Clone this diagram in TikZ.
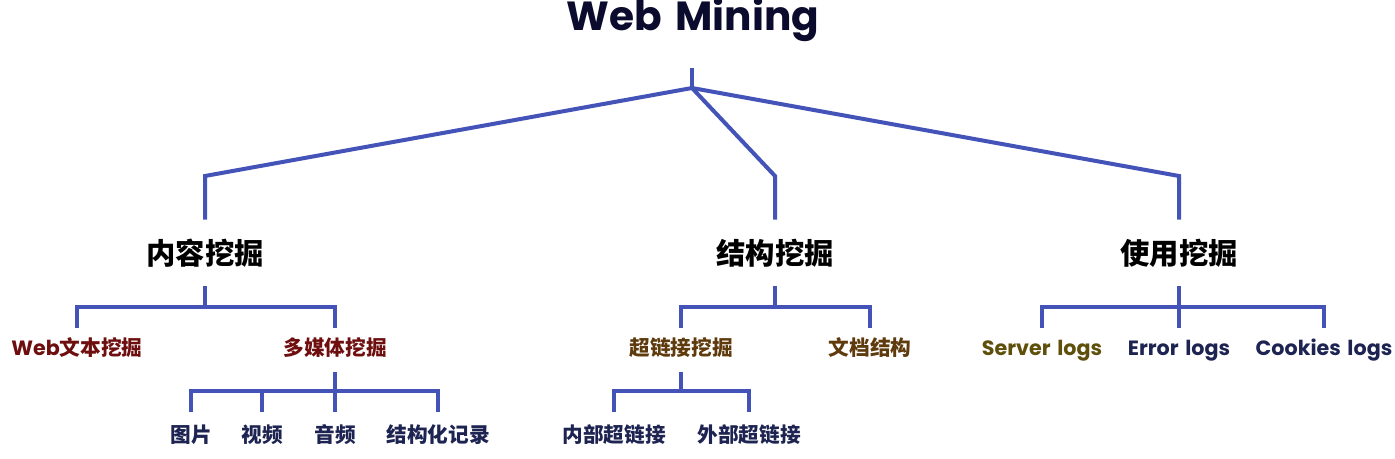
\documentclass[tikz,border=0pt]{standalone}
\usepackage{fontspec}
\setmainfont{Poppins}[WordSpace=1.5]
\newfontfamily\cjk{Noto Sans CJK SC}
\usetikzlibrary{positioning}
\definecolor{ink}{HTML}{0B0B2E}
\definecolor{wire}{HTML}{4353B8}
\definecolor{textred}{HTML}{6E0E0E}
\definecolor{linkbrown}{HTML}{5E3A0C}
\definecolor{olive}{HTML}{5E4F0A}
\definecolor{navy}{HTML}{1E2452}
\tikzset{
  title/.style={font=\fontsize{30.5}{30.5}\selectfont\bfseries,text=ink,inner sep=0pt},
  topic/.style={font=\cjk\fontsize{22}{22}\selectfont\bfseries,text=black,inner sep=0pt,minimum height=49.5pt},
  sub/.style={font=\fontsize{15.5}{15.5}\selectfont\bfseries,inner sep=0pt,text height=0.96em,text depth=0.1em,minimum height=33pt},
  zhsub/.style={sub,font=\cjk\fontsize{15.5}{15.5}\selectfont\bfseries},
  leaf/.style={font=\cjk\fontsize{15.5}{15.5}\selectfont\bfseries,text=navy,inner sep=0pt,minimum height=34.5pt},
  trunk/.style={draw=wire,line width=3pt},
  branch/.style={draw=wire,line width=2.5pt},
}

\begin{document}
\begin{tikzpicture}[x=0.75pt,y=-0.75pt]
\useasboundingbox (0,0) rectangle (1395,459);

\node[title] (web) at (693,20) {Web Mining};

\node[topic] (content) at (205,253) {内容挖掘};
\node[topic] (struct) at (775,253) {结构挖掘};
\node[topic] (usage) at (1179,253) {使用挖掘};

\node[zhsub,text=textred] (webtext) at (77,350) {{\rmfamily Web}文本挖掘};
\node[zhsub,text=textred] (media) at (335,350) {多媒体挖掘};
\node[zhsub,text=linkbrown] (link) at (681,350) {超链接挖掘};
\node[zhsub,text=linkbrown] (doc) at (870,350) {文档结构};
\node[sub,text=olive] (server) at (1042,350) {Server logs};
\node[sub,text=navy] (error) at (1179,350) {Error logs};
\node[sub,text=navy] (cookie) at (1324,350) {Cookies logs};

\node[leaf] (pic) at (191,435) {图片};
\node[leaf] (video) at (262,435) {视频};
\node[leaf] (audio) at (335,435) {音频};
\node[leaf] (record) at (438,435) {结构化记录};
\node[leaf] (inlink) at (614,435) {内部超链接};
\node[leaf] (outlink) at (749,435) {外部超链接};

\coordinate (top) at (692,68);
\coordinate (hub) at (692,88);
\coordinate (bend) at (0,176);
\coordinate (fork) at (0,307);
\coordinate (fork2) at (0,391);

\draw[trunk] (top) -- (hub);
\draw[trunk] (hub) -- (content.north |- bend) -- (content.north);
\draw[trunk] (hub) -- (struct.north |- bend) -- (struct.north);
\draw[trunk] (hub) -- (usage.north |- bend) -- (usage.north);

\draw[branch] (content.south) -- (content.south |- fork);
\draw[branch] (webtext.north) -- (webtext.north |- fork) -- (media.north |- fork) -- (media.north);
\draw[branch] (struct.south) -- (struct.south |- fork);
\draw[branch] (link.north) -- (link.north |- fork) -- (doc.north |- fork) -- (doc.north);
\draw[branch] (usage.south) -- (error.north);
\draw[branch] (server.north) -- (server.north |- fork) -- (cookie.north |- fork) -- (cookie.north);

\draw[branch] (media.south) -- (audio.north);
\draw[branch] (pic.north) -- (pic.north |- fork2) -- (record.north |- fork2) -- (record.north);
\draw[branch] (video.north) -- (video.north |- fork2);
\draw[branch] (link.south) -- (link.south |- fork2);
\draw[branch] (inlink.north) -- (inlink.north |- fork2) -- (outlink.north |- fork2) -- (outlink.north);

\end{tikzpicture}
\end{document}
